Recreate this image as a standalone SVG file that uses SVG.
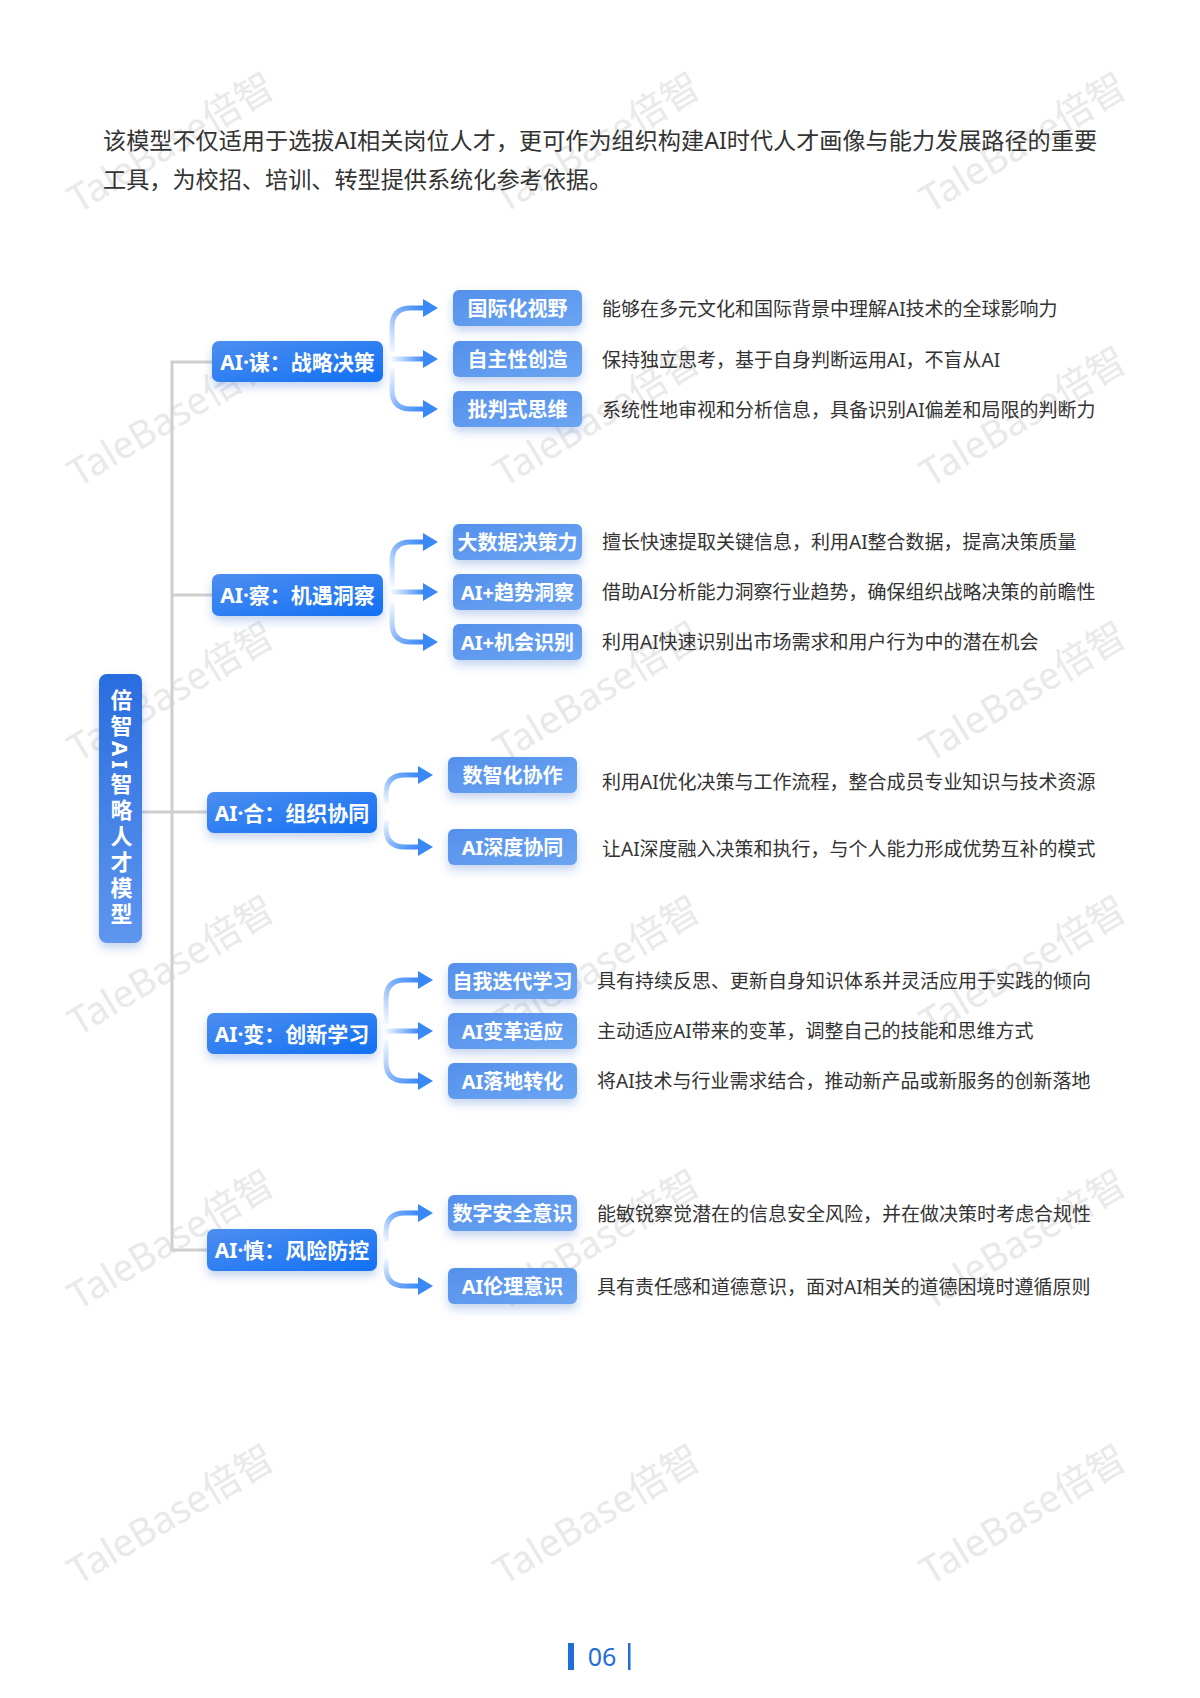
<svg xmlns="http://www.w3.org/2000/svg" width="1200" height="1698" viewBox="0 0 1200 1698">
<defs>
<style>
text{font-family:"Noto Sans","Noto Sans CJK SC",sans-serif;}
.intro{font-size:23.15px;fill:#333;}
.wm{font-size:38px;fill:#e9e9e9;text-anchor:middle;dominant-baseline:central;}
.l1{fill:url(#gL1);filter:url(#sh);}
.l2{fill:url(#gL2);filter:url(#sh);}
.t1{font-size:21px;font-weight:700;fill:#fff;text-anchor:middle;dominant-baseline:central;}
.t2{font-size:20px;font-weight:700;fill:#fff;text-anchor:middle;dominant-baseline:central;}
.desc{font-size:19px;fill:#333;dominant-baseline:central;}
.trunk{fill:none;stroke:#cfcfcf;stroke-width:3;}
.up{fill:none;stroke:url(#gUp);stroke-width:5;}
.dn{fill:none;stroke:url(#gDn);stroke-width:5;}
.mid{fill:url(#gMid);}
.head{fill:#3a88f6;}
</style>
<linearGradient id="gL1" x1="0" y1="0" x2="1" y2="1"><stop offset="0" stop-color="#4d8ef0"/><stop offset="1" stop-color="#1270f4"/></linearGradient>
<linearGradient id="gL2" x1="0" y1="0" x2="1" y2="1"><stop offset="0" stop-color="#5590ec"/><stop offset="1" stop-color="#6aa5f2"/></linearGradient>
<linearGradient id="gRoot" x1="0" y1="0" x2="0" y2="1"><stop offset="0" stop-color="#2a6cdf"/><stop offset="1" stop-color="#5e96ee"/></linearGradient>
<linearGradient id="gUp" x1="0" y1="1" x2="1" y2="0"><stop offset="0" stop-color="#3a88f6" stop-opacity="0.05"/><stop offset="0.5" stop-color="#3a88f6" stop-opacity="0.6"/><stop offset="1" stop-color="#3a88f6"/></linearGradient>
<linearGradient id="gDn" x1="0" y1="0" x2="1" y2="1"><stop offset="0" stop-color="#3a88f6" stop-opacity="0.05"/><stop offset="0.5" stop-color="#3a88f6" stop-opacity="0.6"/><stop offset="1" stop-color="#3a88f6"/></linearGradient>
<linearGradient id="gMid" x1="0" y1="0" x2="1" y2="0"><stop offset="0" stop-color="#3a88f6" stop-opacity="0.05"/><stop offset="1" stop-color="#3a88f6"/></linearGradient>
<filter id="sh" x="-20%" y="-40%" width="140%" height="200%"><feDropShadow dx="0" dy="5" stdDeviation="5" flood-color="#2a62c8" flood-opacity="0.28"/></filter>
</defs>
<rect width="1200" height="1698" fill="#ffffff"/>

<g id="watermarks">
<text class="wm" transform="translate(170,141) rotate(-31)">TaleBase倍智</text>
<text class="wm" transform="translate(596,141) rotate(-31)">TaleBase倍智</text>
<text class="wm" transform="translate(1022,141) rotate(-31)">TaleBase倍智</text>
<text class="wm" transform="translate(170,415) rotate(-31)">TaleBase倍智</text>
<text class="wm" transform="translate(596,415) rotate(-31)">TaleBase倍智</text>
<text class="wm" transform="translate(1022,415) rotate(-31)">TaleBase倍智</text>
<text class="wm" transform="translate(170,690) rotate(-31)">TaleBase倍智</text>
<text class="wm" transform="translate(596,690) rotate(-31)">TaleBase倍智</text>
<text class="wm" transform="translate(1022,690) rotate(-31)">TaleBase倍智</text>
<text class="wm" transform="translate(170,964) rotate(-31)">TaleBase倍智</text>
<text class="wm" transform="translate(596,964) rotate(-31)">TaleBase倍智</text>
<text class="wm" transform="translate(1022,964) rotate(-31)">TaleBase倍智</text>
<text class="wm" transform="translate(170,1238) rotate(-31)">TaleBase倍智</text>
<text class="wm" transform="translate(596,1238) rotate(-31)">TaleBase倍智</text>
<text class="wm" transform="translate(1022,1238) rotate(-31)">TaleBase倍智</text>
<text class="wm" transform="translate(170,1513) rotate(-31)">TaleBase倍智</text>
<text class="wm" transform="translate(596,1513) rotate(-31)">TaleBase倍智</text>
<text class="wm" transform="translate(1022,1513) rotate(-31)">TaleBase倍智</text>
</g>

<g id="intro">
<text class="intro" x="103" y="149">该模型不仅适用于选拔AI相关岗位人才，更可作为组织构建AI时代人才画像与能力发展路径的重要</text>
<text class="intro" x="103" y="188">工具，为校招、培训、转型提供系统化参考依据。</text>
</g>

<g id="connectors">
<path class="trunk" d="M212,362 L172,362 L172,1250 L207,1250 M172,595 L212,595 M141,812 L207,812"/>
<path class="up" d="M392,352 L392,327 Q392,308 411,308 L424,308"/>
<path class="head" d="M423,299 L438,308 L423,317 Z"/>
<rect class="mid" x="391" y="356.5" width="33" height="5"/>
<path class="head" d="M423,350 L438,359 L423,368 Z"/>
<path class="dn" d="M392,368 L392,390 Q392,409 411,409 L424,409"/>
<path class="head" d="M423,400 L438,409 L423,418 Z"/>
<path class="up" d="M392,586 L392,561 Q392,542 411,542 L424,542"/>
<path class="head" d="M423,533 L438,542 L423,551 Z"/>
<rect class="mid" x="391" y="589.5" width="33" height="5"/>
<path class="head" d="M423,583 L438,592 L423,601 Z"/>
<path class="dn" d="M392,602 L392,623 Q392,642 411,642 L424,642"/>
<path class="head" d="M423,633 L438,642 L423,651 Z"/>
<path class="up" d="M386,804 L386,794 Q386,775 405,775 L419,775"/>
<path class="head" d="M418,766 L433,775 L418,784 Z"/>
<path class="dn" d="M386,820 L386,828 Q386,847 405,847 L419,847"/>
<path class="head" d="M418,838 L433,847 L418,856 Z"/>
<path class="up" d="M386,1024 L386,999 Q386,980 405,980 L419,980"/>
<path class="head" d="M418,971 L433,980 L418,989 Z"/>
<rect class="mid" x="385" y="1028.5" width="34" height="5"/>
<path class="head" d="M418,1022 L433,1031 L418,1040 Z"/>
<path class="dn" d="M386,1040 L386,1062 Q386,1081 405,1081 L419,1081"/>
<path class="head" d="M418,1072 L433,1081 L418,1090 Z"/>
<path class="up" d="M386,1242 L386,1232 Q386,1213 405,1213 L419,1213"/>
<path class="head" d="M418,1204 L433,1213 L418,1222 Z"/>
<path class="dn" d="M386,1258 L386,1267 Q386,1286 405,1286 L419,1286"/>
<path class="head" d="M418,1277 L433,1286 L418,1295 Z"/>
</g>

<g id="root">
<rect x="99" y="674" width="43" height="269" rx="8" fill="url(#gRoot)" filter="url(#sh)"/>
<text x="120.5" y="809" style="writing-mode:vertical-rl;font-size:22px;font-weight:700;fill:#fff;text-anchor:middle;letter-spacing:4px;">倍智AI智略人才模型</text>
</g>

<g id="n1">
<rect class="l1" x="212" y="341" width="171" height="41" rx="7"/>
<text class="t1" x="297.5" y="361.5">AI·谋：战略决策</text>
</g>
<g id="n1a"><rect class="l2" x="453" y="290" width="129" height="36" rx="6"/><text class="t2" x="517.5" y="308">国际化视野</text></g>
<g id="n1b"><rect class="l2" x="453" y="341" width="129" height="36" rx="6"/><text class="t2" x="517.5" y="359">自主性创造</text></g>
<g id="n1c"><rect class="l2" x="453" y="391" width="129" height="36" rx="6"/><text class="t2" x="517.5" y="409">批判式思维</text></g>
<g id="d1">
<text class="desc" x="602" y="309">能够在多元文化和国际背景中理解AI技术的全球影响力</text>
<text class="desc" x="602" y="360">保持独立思考，基于自身判断运用AI，不盲从AI</text>
<text class="desc" x="602" y="410">系统性地审视和分析信息，具备识别AI偏差和局限的判断力</text>
</g>

<g id="n2">
<rect class="l1" x="212" y="574" width="171" height="42" rx="7"/>
<text class="t1" x="297.5" y="595">AI·察：机遇洞察</text>
</g>
<g id="n2a"><rect class="l2" x="453" y="524" width="129" height="36" rx="6"/><text class="t2" x="517.5" y="542">大数据决策力</text></g>
<g id="n2b"><rect class="l2" x="453" y="574" width="129" height="36" rx="6"/><text class="t2" x="517.5" y="592">AI+趋势洞察</text></g>
<g id="n2c"><rect class="l2" x="453" y="624" width="129" height="36" rx="6"/><text class="t2" x="517.5" y="642">AI+机会识别</text></g>
<g id="d2">
<text class="desc" x="602" y="542">擅长快速提取关键信息，利用AI整合数据，提高决策质量</text>
<text class="desc" x="602" y="592">借助AI分析能力洞察行业趋势，确保组织战略决策的前瞻性</text>
<text class="desc" x="602" y="642">利用AI快速识别出市场需求和用户行为中的潜在机会</text>
</g>

<g id="n3">
<rect class="l1" x="207" y="792" width="170" height="41" rx="7"/>
<text class="t1" x="292" y="812.5">AI·合：组织协同</text>
</g>
<g id="n3a"><rect class="l2" x="448" y="757" width="129" height="36" rx="6"/><text class="t2" x="512.5" y="775">数智化协作</text></g>
<g id="n3b"><rect class="l2" x="448" y="829" width="129" height="36" rx="6"/><text class="t2" x="512.5" y="847">AI深度协同</text></g>
<g id="d3">
<text class="desc" x="602" y="782">利用AI优化决策与工作流程，整合成员专业知识与技术资源</text>
<text class="desc" x="602" y="849">让AI深度融入决策和执行，与个人能力形成优势互补的模式</text>
</g>

<g id="n4">
<rect class="l1" x="207" y="1013" width="170" height="41" rx="7"/>
<text class="t1" x="292" y="1033.5">AI·变：创新学习</text>
</g>
<g id="n4a"><rect class="l2" x="448" y="963" width="129" height="36" rx="6"/><text class="t2" x="512.5" y="981">自我迭代学习</text></g>
<g id="n4b"><rect class="l2" x="448" y="1013" width="129" height="36" rx="6"/><text class="t2" x="512.5" y="1031">AI变革适应</text></g>
<g id="n4c"><rect class="l2" x="448" y="1063" width="129" height="36" rx="6"/><text class="t2" x="512.5" y="1081">AI落地转化</text></g>
<g id="d4">
<text class="desc" x="597" y="981">具有持续反思、更新自身知识体系并灵活应用于实践的倾向</text>
<text class="desc" x="597" y="1031">主动适应AI带来的变革，调整自己的技能和思维方式</text>
<text class="desc" x="597" y="1081">将AI技术与行业需求结合，推动新产品或新服务的创新落地</text>
</g>

<g id="n5">
<rect class="l1" x="207" y="1229" width="170" height="42" rx="7"/>
<text class="t1" x="292" y="1250">AI·慎：风险防控</text>
</g>
<g id="n5a"><rect class="l2" x="448" y="1195" width="129" height="36" rx="6"/><text class="t2" x="512.5" y="1213">数字安全意识</text></g>
<g id="n5b"><rect class="l2" x="448" y="1268" width="129" height="36" rx="6"/><text class="t2" x="512.5" y="1286">AI伦理意识</text></g>
<g id="d5">
<text class="desc" x="597" y="1214">能敏锐察觉潜在的信息安全风险，并在做决策时考虑合规性</text>
<text class="desc" x="597" y="1287">具有责任感和道德意识，面对AI相关的道德困境时遵循原则</text>
</g>

<g id="pagenum">
<rect x="568" y="1643" width="6" height="27" fill="#1f6fd6"/>
<text x="602" y="1666" style="font-size:25px;fill:#1f6fd6;text-anchor:middle;">06</text>
<rect x="628" y="1643" width="2.5" height="27" fill="#1f6fd6"/>
</g>
</svg>
